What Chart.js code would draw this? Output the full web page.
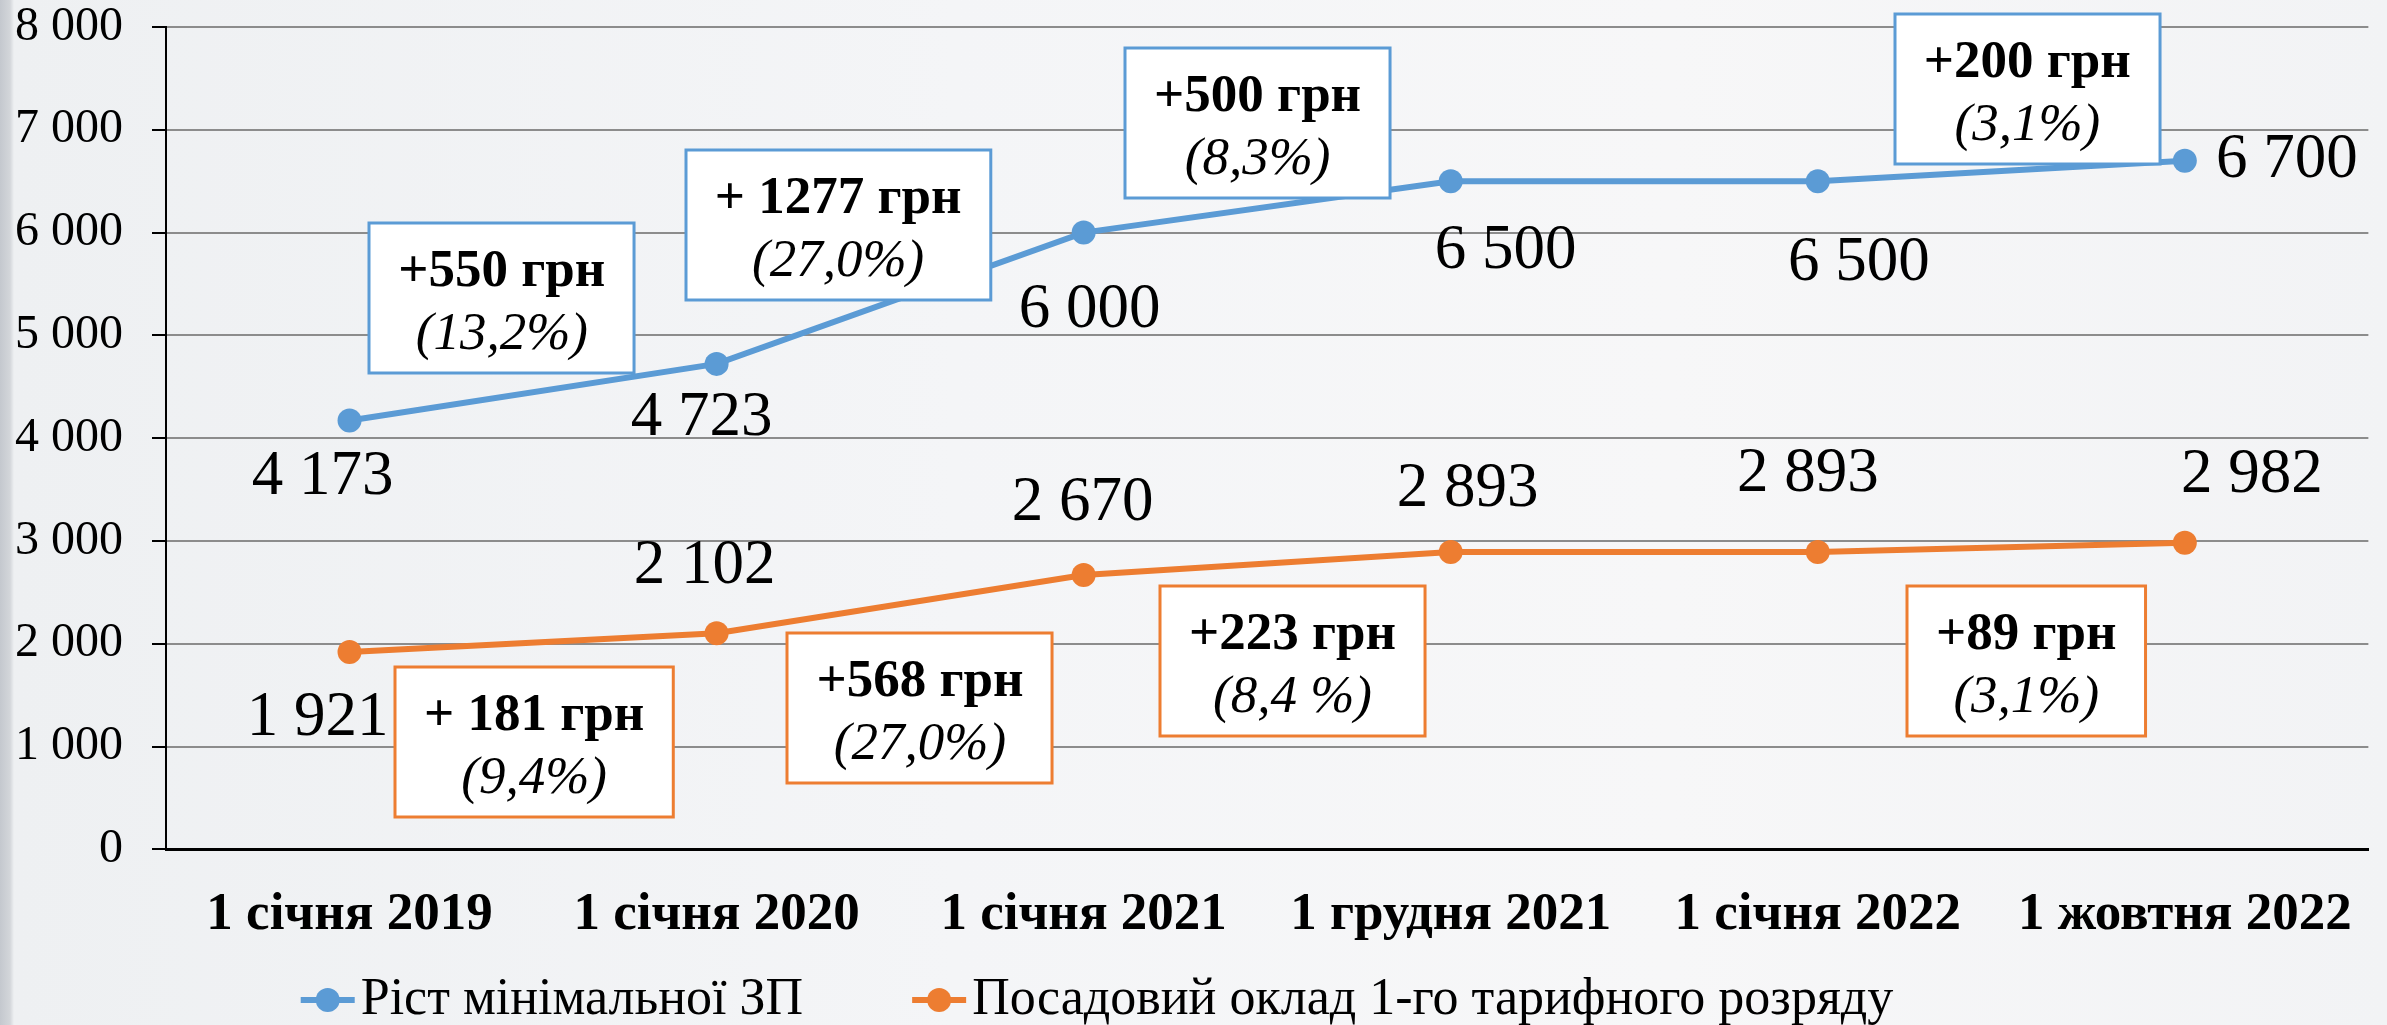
<!DOCTYPE html>
<html lang="uk">
<head>
    <meta charset="UTF-8">
    <title>Мінімальна ЗП та посадовий оклад</title>
    <script src="https://cdn.jsdelivr.net/npm/chart.js"></script>
    <style>
        html, body {
            margin: 0;
            padding: 0;
        }
        body {
            width: 2387px;
            height: 1025px;
            overflow: hidden;
            background: linear-gradient(to right, #c4c8ce 0px, #d3d6da 10px, #eef0f2 14px, #f4f5f7 40%, #f7f7f8 70%, #f2f3f5 100%);
        }
        canvas {
            display: block;
        }
    </style>
</head>
<body>
    <canvas id="wageChart" width="2387" height="1025"></canvas>

    <script>
        const categories = ['1 січня 2019', '1 січня 2020', '1 січня 2021', '1 грудня 2021', '1 січня 2022', '1 жовтня 2022'];
        const minWage = [4173, 4723, 6000, 6500, 6500, 6700];
        const baseSalary = [1921, 2102, 2670, 2893, 2893, 2982];
        const seriesNames = ['Ріст мінімальної ЗП', 'Посадовий оклад 1-го тарифного розряду'];

        // increments shown in the boxes between points
        const minWageSteps = ['+550 грн', '+ 1277 грн', '+500 грн', '+200 грн'];
        const minWagePct = ['(13,2%)', '(27,0%)', '(8,3%)', '(3,1%)'];
        const salarySteps = ['+ 181 грн', '+568 грн', '+223 грн', '+89 грн'];
        const salaryPct = ['(9,4%)', '(27,0%)', '(8,4 %)', '(3,1%)'];

        const yMax = 8000;
        const yStep = 1000;

        const BLUE = '#5b9bd5';
        const ORANGE = '#ed7d31';
        const SERIF = '"Liberation Serif", "Times New Roman", serif';

        // layout: where the value labels sit relative to their point (px)
        const labelShift = [
            [[-27, 57], [-15, 55], [6, 78], [55, 70], [41, 82], [102, 0]],
            [[-32, 67], [-12, -67], [-1, -71], [17, -63], [-10, -78], [67, -67]]
        ];
        // layout: box centres in chart units (category index, value)
        const boxAt = [
            [[0.415, 5361], [1.331, 6072], [2.474, 7066], [4.571, 7398]],
            [[0.503, 1043], [1.554, 1374], [2.569, 1832], [4.568, 1832]]
        ];
        const legendCenterX = 1097;
        const legendY = 1000;
        const yTickPad = 29;

        function fmt(n) {
            return String(n).replace(/\B(?=(\d{3})+(?!\d))/g, ' ');
        }

        const notesPlugin = {
            id: 'notes',
            afterDatasetsDraw(chart) {
                const ctx = chart.ctx;
                const xs = chart.scales.x;
                const ys = chart.scales.y;
                ctx.save();

                // value labels next to the points
                ctx.font = '63px ' + SERIF;
                ctx.fillStyle = '#000';
                ctx.textAlign = 'center';
                ctx.textBaseline = 'middle';
                chart.data.datasets.forEach((ds, di) => {
                    const meta = chart.getDatasetMeta(di);
                    ds.data.forEach((v, i) => {
                        const p = meta.data[i];
                        ctx.fillText(fmt(v), p.x + labelShift[di][i][0], p.y + labelShift[di][i][1]);
                    });
                });

                // boxes with increments
                const groups = [
                    { steps: minWageSteps, pct: minWagePct, color: BLUE },
                    { steps: salarySteps, pct: salaryPct, color: ORANGE }
                ];
                groups.forEach((g, gi) => {
                    g.steps.forEach((txt, i) => {
                        const cx = xs.getPixelForValue(boxAt[gi][i][0]);
                        const cy = ys.getPixelForValue(boxAt[gi][i][1]);
                        ctx.font = 'bold 53px ' + SERIF;
                        const w1 = ctx.measureText(txt).width;
                        ctx.font = 'italic 53px ' + SERIF;
                        const w2 = ctx.measureText(g.pct[i]).width;
                        const w = Math.max(w1, w2) + 58;
                        const h = 150;
                        const left = Math.round(cx - w / 2);
                        const top = Math.round(cy - h / 2);

                        ctx.fillStyle = '#ffffff';
                        ctx.fillRect(left, top, w, h);
                        ctx.strokeStyle = g.color;
                        ctx.lineWidth = 3;
                        ctx.strokeRect(left, top, w, h);

                        ctx.fillStyle = '#000';
                        ctx.textAlign = 'center';
                        ctx.textBaseline = 'alphabetic';
                        ctx.font = 'bold 53px ' + SERIF;
                        ctx.fillText(txt, cx, top + 63);
                        ctx.font = 'italic 53px ' + SERIF;
                        ctx.fillText(g.pct[i], cx, top + 126);
                    });
                });
                ctx.restore();
            },
            afterDraw(chart) {
                // legend: line with a dot, then the series name
                const ctx = chart.ctx;
                ctx.save();
                ctx.font = '52px ' + SERIF;
                const markW = 54;
                const gapText = 6;
                const gapItem = 109;
                const colors = [BLUE, ORANGE];
                const widths = seriesNames.map(s => markW + gapText + ctx.measureText(s).width);
                const total = widths[0] + widths[1] + gapItem;
                let x = legendCenterX - total / 2;
                seriesNames.forEach((name, i) => {
                    ctx.strokeStyle = colors[i];
                    ctx.lineWidth = 6;
                    ctx.beginPath();
                    ctx.moveTo(x, legendY);
                    ctx.lineTo(x + markW, legendY);
                    ctx.stroke();
                    ctx.fillStyle = colors[i];
                    ctx.beginPath();
                    ctx.arc(x + markW / 2, legendY, 12, 0, Math.PI * 2);
                    ctx.fill();
                    ctx.fillStyle = '#000';
                    ctx.textAlign = 'left';
                    ctx.textBaseline = 'middle';
                    ctx.fillText(name, x + markW + gapText, legendY);
                    x += widths[i] + gapItem;
                });
                ctx.restore();
            }
        };

        const ctx = document.getElementById('wageChart').getContext('2d');
        new Chart(ctx, {
            type: 'line',
            data: {
                labels: categories,
                datasets: [{
                    label: seriesNames[0],
                    data: minWage,
                    borderColor: BLUE,
                    backgroundColor: BLUE,
                    borderWidth: 6,
                    pointRadius: 12,
                    pointBorderWidth: 0,
                    pointBackgroundColor: BLUE,
                    tension: 0,
                    fill: false
                },
                {
                    label: seriesNames[1],
                    data: baseSalary,
                    borderColor: ORANGE,
                    backgroundColor: ORANGE,
                    borderWidth: 6,
                    pointRadius: 12,
                    pointBorderWidth: 0,
                    pointBackgroundColor: ORANGE,
                    tension: 0,
                    fill: false
                }]
            },
            options: {
                responsive: false,
                animation: false,
                devicePixelRatio: 1,
                layout: {
                    autoPadding: false,
                    padding: { left: 15, right: 15, top: 27, bottom: 44 }
                },
                plugins: {
                    legend: { display: false },
                    tooltip: { enabled: false }
                },
                scales: {
                    x: {
                        offset: true,
                        grid: { display: false, drawTicks: false },
                        border: { display: true, color: '#000', width: 3 },
                        ticks: {
                            padding: 34,
                            color: '#000',
                            font: { family: SERIF, size: 53, weight: 'bold' },
                            maxRotation: 0,
                            autoSkip: false
                        }
                    },
                    y: {
                        min: 0,
                        max: yMax,
                        grid: {
                            color: '#8c8c8c',
                            lineWidth: 2,
                            tickColor: '#000',
                            tickLength: 14,
                            tickWidth: 2
                        },
                        border: { display: true, color: '#000', width: 2 },
                        ticks: {
                            stepSize: yStep,
                            padding: yTickPad,
                            color: '#000',
                            font: { family: SERIF, size: 48 },
                            callback: v => fmt(v)
                        },
                        // the padding is counted twice in the axis width; drop the outer half
                        afterFit: s => {
                            s.width -= yTickPad;
                            s.paddingTop = 0;
                        }
                    }
                }
            },
            plugins: [notesPlugin]
        });
    </script>
</body>
</html>
